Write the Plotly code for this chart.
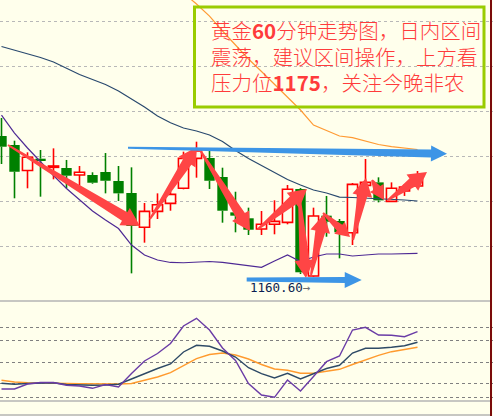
import math
import plotly.graph_objects as go

# ---- 60-minute gold candles (price) ----
bar_idx = list(range(33))
open_ = [1176.22, 1175.22, 1172.39, 1173.70, 1172.74, 1172.67, 1171.89, 1171.89, 1172.22, 1171.22,
         1169.89, 1166.08, 1167.85, 1168.74, 1170.41, 1173.74, 1173.78, 1171.67, 1167.74, 1167.08,
         1165.89, 1166.41, 1166.63, 1170.33, 1160.67, 1167.37, 1166.78, 1165.48, 1170.74, 1171.07,
         1168.96, 1170.11, 1170.67]
high = [1178.22, 1175.70, 1174.41, 1174.67, 1174.85, 1173.56, 1172.89, 1172.19, 1174.33, 1172.89,
        1172.74, 1168.78, 1169.85, 1170.85, 1174.48, 1175.59, 1174.67, 1172.70, 1170.03, 1168.26,
        1167.89, 1169.08, 1170.78, 1170.44, 1168.26, 1169.56, 1167.00, 1171.00, 1173.67, 1171.63,
        1171.07, 1170.89, 1172.33]
low = [1173.11, 1169.30, 1170.41, 1169.48, 1171.41, 1170.41, 1170.70, 1170.92, 1169.85, 1169.00,
       1160.96, 1164.37, 1167.00, 1167.92, 1170.30, 1171.59, 1170.33, 1166.59, 1165.52, 1165.22,
       1165.22, 1165.30, 1166.41, 1160.89, 1160.60, 1165.03, 1162.63, 1164.11, 1169.67, 1168.85,
       1168.89, 1169.56, 1170.41]
close = [1175.03, 1172.25, 1173.86, 1173.48, 1172.89, 1171.81, 1172.19, 1171.03, 1171.25, 1169.85,
         1166.22, 1167.85, 1168.59, 1169.74, 1173.74, 1174.56, 1171.25, 1167.92, 1167.37, 1165.81,
         1166.41, 1166.74, 1170.30, 1161.08, 1167.33, 1166.70, 1165.52, 1170.85, 1171.07, 1169.07,
         1170.41, 1170.56, 1171.33]

# ---- Bollinger bands ----
bb_upper = [1193.55, 1193.78, 1194.33, 1195.00, 1195.78, 1196.44, 1196.89, 1197.11, 1197.11, 1196.89,
            1196.44, 1195.55, 1194.44, 1193.22, 1192.11, 1190.89, 1189.55, 1187.89, 1186.28, 1184.78,
            1183.39, 1182.00, 1180.50, 1179.11, 1177.44, 1176.83, 1176.22, 1176.05, 1175.67, 1175.28,
            1175.05, 1174.89, 1174.72]
bb_mid = [1186.17, 1185.78, 1185.39, 1184.94, 1184.44, 1183.72, 1183.06, 1182.50, 1181.94, 1181.22,
          1180.33, 1179.44, 1178.44, 1177.70, 1177.11, 1176.78, 1176.33, 1175.61, 1174.61, 1173.72,
          1172.94, 1172.17, 1171.39, 1170.78, 1170.22, 1169.89, 1169.44, 1169.39, 1169.33, 1169.28,
          1169.22, 1169.11, 1169.00]
bb_lower = [1178.55, 1176.55, 1174.89, 1173.33, 1171.83, 1170.39, 1169.11, 1167.89, 1166.89, 1165.94,
            1164.11, 1163.00, 1162.44, 1162.17, 1162.14, 1162.19, 1162.28, 1162.17, 1162.00, 1161.78,
            1161.63, 1162.33, 1163.00, 1162.28, 1162.78, 1163.11, 1163.11, 1162.89, 1163.00, 1163.11,
            1163.11, 1163.17, 1163.19]

# ---- lower oscillator lines ----
osc_fast = [12, 12, 17, 18.5, 18.5, 15.7, 15, 12.7, 16.5, 14, 27.5, 40, 47.5, 57.5, 75, 82.7, 71,
            53, 40.5, 17.5, 6, 3.7, 21, 10, 24.5, 39.3, 45, 71, 73.7, 66, 65.7, 64.3, 69.3]
osc_mid = [17.7, 16.8, 17.5, 17.7, 18.2, 16.5, 16, 15.7, 16, 16.8, 22, 27.5, 32.5, 37, 49, 55.7,
           54.7, 50, 44, 33.3, 27.3, 23, 27.7, 22, 27.4, 32.5, 35.7, 48, 52.7, 52.7, 53.7, 55.3, 58.7]
osc_slow = [20.7, 19, 18.4, 18.3, 18.2, 17.5, 17.2, 17, 17, 17, 17.5, 20.5, 24, 28.3, 35.5, 42.3,
            46.5, 48, 46, 42, 36.5, 32, 30.7, 27.7, 27.7, 29.5, 31.7, 36.5, 41, 45.7, 49.3, 51.7, 53.7]

# grid levels
price_grid = [1164, 1169, 1174, 1179, 1184, 1189]
osc_grid = [4, 18, 39, 61, 74]

# trend arrows: (bar, price) -> (bar, price)
red_arrows = [(0.5, 1175.22, 10.65, 1166.22), (11.42, 1167.0, 15.04, 1175.0),
              (15.27, 1174.67, 19.12, 1165.67), (19.73, 1165.89, 23.5, 1170.33),
              (22.88, 1170.0, 23.42, 1160.44), (23.81, 1160.78, 24.81, 1167.55),
              (24.73, 1167.67, 26.81, 1165.0), (27.04, 1164.67, 28.04, 1171.55),
              (28.5, 1171.33, 29.42, 1169.11), (29.73, 1169.11, 32.73, 1172.22)]
resistance_arrow = (9.73, 1174.92, 34.27, 1174.24)
support_arrow = (18.86, 1160.28, 27.71, 1160.22)
low_bar, low_price, low_label = 24, 1160.60, "1160.60"

# commentary lines
note_lines = ["黄金<b>60</b>分钟走势图，日内区间",
              "震荡，建议区间操作，上方看",
              "压力位<b>1175</b>，关注今晚非农"]

BG = "#FFFFEC"
GREEN = "#008000"
RED = "#FF0000"
SX, SY = 13.0, 9.0  # screen pixels per bar / per price unit

X_RANGE = [-1.5 / SX, (493 - 1.5) / SX]
Y_RANGE = [1158.0, 1158.0 + 300 / SY]


def arrow_poly(x0, p0, x1, p1, wt, wn, hw, hl):
    ax, ay, bx, by = x0 * SX, p0 * SY, x1 * SX, p1 * SY
    dx, dy = bx - ax, by - ay
    L = math.hypot(dx, dy)
    ux, uy = dx / L, dy / L
    nx, ny = -uy, ux
    cx, cy = bx - ux * hl, by - uy * hl
    pts = [(ax + nx * wt / 2, ay + ny * wt / 2), (cx + nx * wn / 2, cy + ny * wn / 2),
           (cx + nx * hw / 2, cy + ny * hw / 2), (bx, by),
           (cx - nx * hw / 2, cy - ny * hw / 2), (cx - nx * wn / 2, cy - ny * wn / 2),
           (ax - nx * wt / 2, ay - ny * wt / 2)]
    pts.append(pts[0])
    return [p[0] / SX for p in pts], [p[1] / SY for p in pts]


fig = go.Figure()

# wicks (split around the body so hollow candles stay empty)
for up, col in ((False, GREEN), (True, RED)):
    xs, ys = [], []
    for i in bar_idx:
        if (close[i] >= open_[i]) != up:
            continue
        top, bot = max(open_[i], close[i]), min(open_[i], close[i])
        xs += [i, i, None, i, i, None]
        ys += [high[i], top, None, bot, low[i], None]
    fig.add_trace(go.Scatter(x=xs, y=ys, mode="lines", line=dict(color=col, width=1.6),
                             hoverinfo="skip", xaxis="x", yaxis="y"))

# candle bodies
dn = [i for i in bar_idx if close[i] < open_[i]]
upc = [i for i in bar_idx if close[i] >= open_[i]]
fig.add_trace(go.Bar(x=dn, y=[open_[i] - close[i] for i in dn], base=[close[i] for i in dn],
                     width=0.8, marker=dict(color=GREEN, line=dict(width=0)), xaxis="x", yaxis="y"))
fig.add_trace(go.Bar(x=upc, y=[close[i] - open_[i] for i in upc], base=[open_[i] for i in upc],
                     width=0.78, marker=dict(color=BG, line=dict(color=RED, width=1.6)),
                     xaxis="x", yaxis="y"))

# Bollinger bands
for ser, col in ((bb_upper, "#FF9A33"), (bb_mid, "#29496E"), (bb_lower, "#4E2A94")):
    fig.add_trace(go.Scatter(x=bar_idx, y=ser, mode="lines", line=dict(color=col, width=1.2),
                             xaxis="x", yaxis="y"))

# oscillator panel
for ser, col in ((osc_slow, "#FF9A2E"), (osc_mid, "#2E4A66"), (osc_fast, "#6A3CA6")):
    fig.add_trace(go.Scatter(x=bar_idx, y=ser, mode="lines", line=dict(color=col, width=1.4),
                             xaxis="x2", yaxis="y2"))

# arrows
for a in red_arrows:
    length = math.hypot((a[2] - a[0]) * SX, (a[3] - a[1]) * SY)
    if length < 45:
        px, py = arrow_poly(*a, 2, 8, 16, 14)
    else:
        px, py = arrow_poly(*a, 2, 10, 20, 18)
    fig.add_trace(go.Scatter(x=px, y=py, mode="lines", fill="toself", fillcolor="#FF4545",
                             line=dict(width=0, color="#FF4545"), xaxis="x", yaxis="y"))
for a, dims in ((resistance_arrow, (2, 8, 16, 16)), (support_arrow, (4, 6, 16, 17))):
    px, py = arrow_poly(*a, *dims)
    fig.add_trace(go.Scatter(x=px, y=py, mode="lines", fill="toself", fillcolor="#3D95E6",
                             line=dict(width=0, color="#3D95E6"), xaxis="x", yaxis="y"))

axis_common = dict(showticklabels=False, zeroline=False, showline=False, ticks="")
fig.update_layout(
    width=493, height=416, margin=dict(l=0, r=0, t=0, b=0),
    paper_bgcolor=BG, plot_bgcolor=BG, showlegend=False, barmode="overlay",
    xaxis=dict(domain=[0, 1], range=X_RANGE, showgrid=False, anchor="y", **axis_common),
    yaxis=dict(domain=[116 / 416, 1], range=Y_RANGE, tickvals=price_grid, showgrid=True,
               gridcolor="#B8B8B8", griddash="dot", gridwidth=1, anchor="x", **axis_common),
    xaxis2=dict(domain=[0, 1], range=X_RANGE, showgrid=False, anchor="y2", **axis_common),
    yaxis2=dict(domain=[15 / 416, 115 / 416], range=[0, 100], tickvals=osc_grid, showgrid=True,
                gridcolor="#808080", griddash="dot", gridwidth=1, anchor="x2", **axis_common),
)

shapes = []
for yp in (115 / 416, 15 / 416, 1 / 416):
    shapes.append(dict(type="line", xref="paper", yref="paper", x0=0, x1=491 / 493, y0=yp, y1=yp,
                       line=dict(color="#B4B4B4", width=1.5)))
shapes.append(dict(type="line", xref="paper", yref="paper", x0=491 / 493, x1=491 / 493, y0=0, y1=1,
                   line=dict(color="#7A0A0A", width=2)))
shapes.append(dict(type="rect", xref="paper", yref="paper", x0=194.5 / 493, x1=484 / 493,
                   y0=(416 - 107) / 416, y1=(416 - 7) / 416, line=dict(color="#99CC00", width=3)))
fig.update_layout(shapes=shapes)

# commentary, one annotation per line
for line_text, yc in zip(note_lines, (30, 56, 82)):
    fig.add_annotation(
        xref="paper", yref="paper", x=209 / 493, y=(416 - yc) / 416, xanchor="left",
        yanchor="middle", align="left", showarrow=False, text=line_text,
        font=dict(family="Noto Sans CJK SC", size=20.5, color="#FF3B3B", weight=300),
    )

fig.add_annotation(
    x=low_bar, y=low_price, xref="x", yref="y", xanchor="right", yanchor="top", yshift=-1,
    xshift=-1, showarrow=False,
    text=low_label + '<span style="color:#6E6E6E">→</span>',
    font=dict(family="DejaVu Sans Mono", size=12.5, color="#0B1D51"),
)

fig.write_html("out.html")
